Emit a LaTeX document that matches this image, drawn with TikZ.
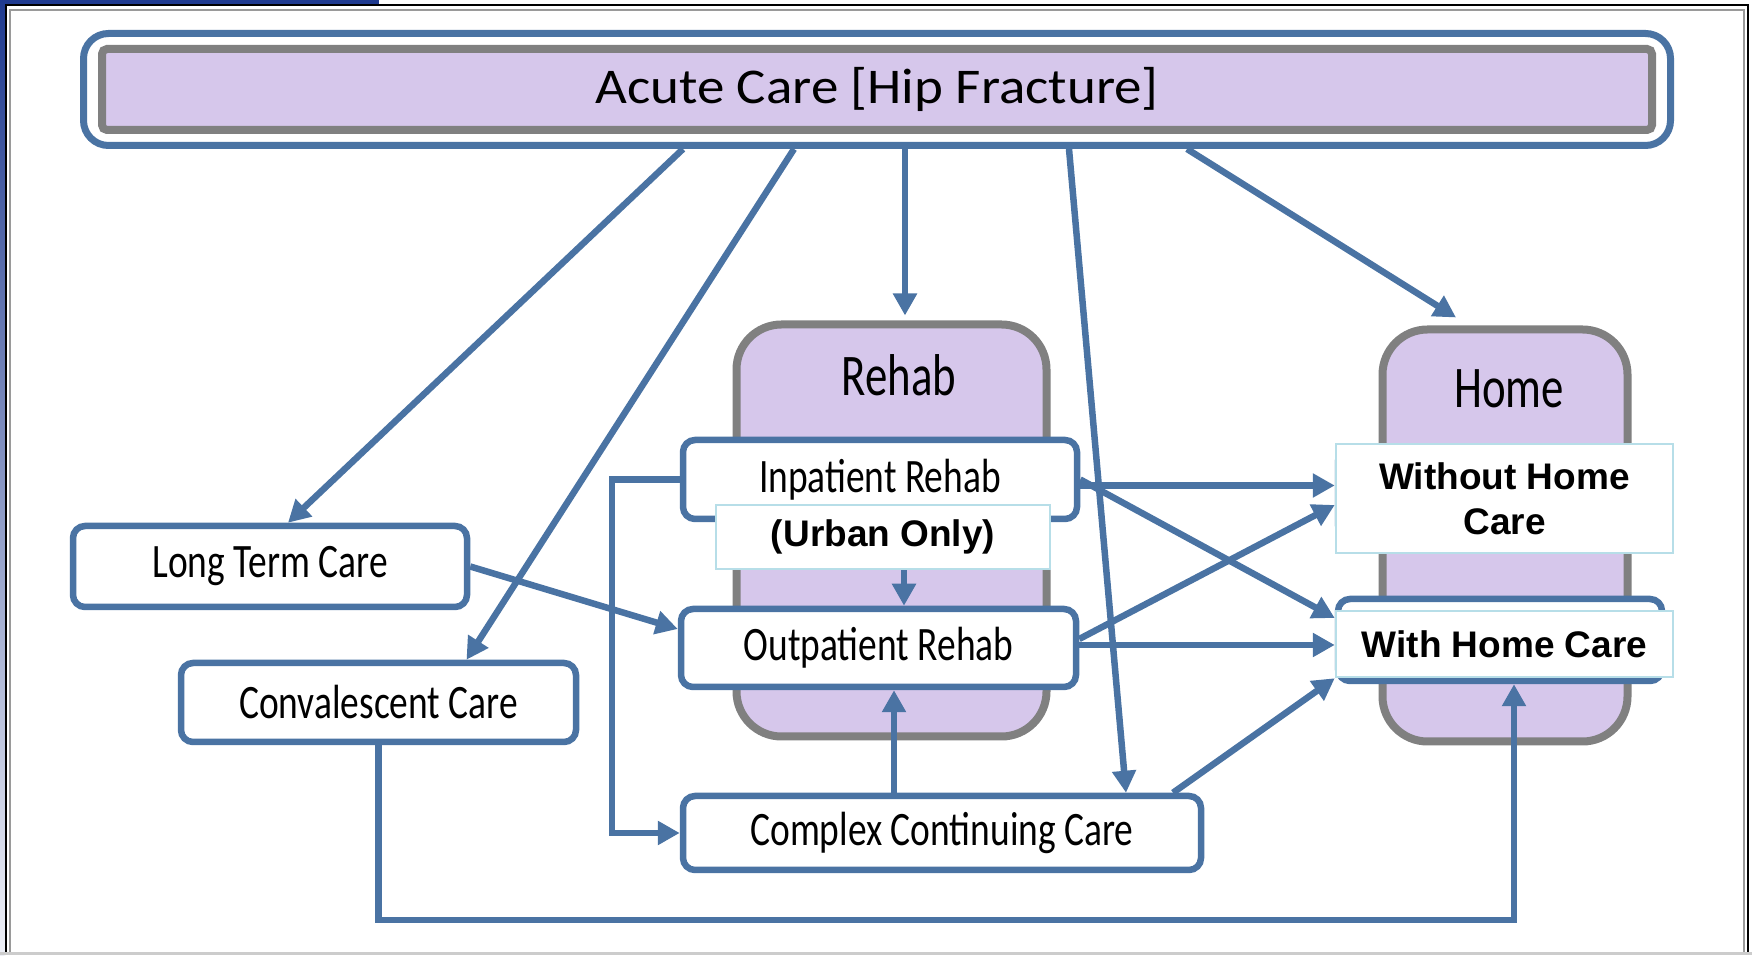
\documentclass[tikz,border=0pt]{standalone}
\usepackage{fontspec}
\setmainfont{Carlito}
\newfontfamily\arialfont{Liberation Sans}
\usetikzlibrary{arrows.meta}
\definecolor{flowblue}{RGB}{74,115,163}
\definecolor{framegray}{RGB}{128,128,128}
\definecolor{lavender}{RGB}{214,199,235}
\definecolor{tagcyan}{RGB}{183,222,232}
\definecolor{framedark}{RGB}{31,58,143}
\newcommand{\narrowtext}[2]{\scalebox{#1}[1]{#2}}
\begin{document}
\begin{tikzpicture}[x=1pt,y=1pt,
	carebox/.style={draw=flowblue,line width=6.5pt,rounded corners=12pt,fill=white,
		font=\fontsize{48}{50}\selectfont},
	tagbox/.style={draw=tagcyan,line width=1.5pt,fill=white,align=center,
		font=\arialfont\bfseries\fontsize{37}{45}\selectfont},
	groupbox/.style={draw=framegray,line width=8pt,rounded corners=45pt,fill=lavender},
	grouplabel/.style={font=\fontsize{59}{60}\selectfont},
	flowarrow/.style={draw=flowblue,line width=6.5pt,-{Triangle[length=22pt,width=23pt]}}]
	\useasboundingbox (0,0) rectangle (1752,955);
	% frame
	\fill[framedark] (0,951) rectangle (379,955);
	\shade[top color=framedark,bottom color=framedark!8] (0,0) rectangle (4.5,955);
	\draw[line width=2pt] (5.5,0)--(5.5,949.5)--(1748,949.5)--(1748,0);
	\draw[framegray!80,line width=2.5pt] (10,0)--(10,945)--(1744,945)--(1744,0);
	\draw[framegray!40,line width=3pt] (0,1.5)--(1752,1.5);
	% acute care
	\node[draw=flowblue,line width=7pt,rounded corners=25pt,fill=white,
		minimum width=1587pt,minimum height=112pt] (acute) at (877,865.5) {};
	\node[draw=framegray,line width=8pt,rounded corners=5pt,fill=lavender,
		minimum width=1550pt,minimum height=81pt,font=\fontsize{50}{52}\selectfont]
		(acutein) at (877,865.5) {\narrowtext{1.1}{Acute Care [Hip Fracture]}};
	% groups
	\node[groupbox,minimum width=310pt,minimum height=412pt] (rehab) at (891.5,424.5) {};
	\node[grouplabel] (rehablbl) at (899,580) {\narrowtext{.76}{Rehab}};
	\node[groupbox,minimum width=245pt,minimum height=412pt] (home) at (1505,419.5) {};
	\node[grouplabel] (homelbl) at (1509,566) {\narrowtext{.76}{Home}};
	% care settings
	\node[carebox,minimum width=394pt,minimum height=79pt] (inpatient) at (880,475.5) {\narrowtext{.78}{Inpatient Rehab}};
	\node[carebox,minimum width=395pt,minimum height=78pt] (outpatient) at (878.5,307) {\narrowtext{.78}{Outpatient Rehab}};
	\node[carebox,minimum width=518pt,minimum height=74pt] (complex) at (942,122) {\narrowtext{.78}{Complex Continuing Care}};
	\node[carebox,minimum width=394pt,minimum height=81pt] (ltc) at (270,388.5) {\narrowtext{.78}{Long Term Care}};
	\node[carebox,minimum width=395pt,minimum height=79pt] (conv) at (378.5,252.5) {\narrowtext{.78}{Convalescent Care}};
	\node[carebox,minimum width=324pt,minimum height=88pt] (withoutbox) at (1500,462) {};
	\node[carebox,minimum width=324pt,minimum height=82pt] (withbox) at (1500,315) {};
	\node[tagbox,minimum width=337pt,minimum height=109pt] (without) at (1504.5,456.5) {Without Home\\Care};
	\node[tagbox,minimum width=337pt,minimum height=66pt] (with) at (1504.5,311) {With Home Care};
	% connectors
	\coordinate (low) at (0,35);
	\draw[flowarrow] ([xshift=-194pt]acute.south) -- ([xshift=18pt]ltc.north);
	\draw[flowarrow] ([xshift=-83pt]acute.south) -- ([xshift=88pt]conv.north);
	\draw[flowarrow] ([xshift=28pt]acute.south) -- ([xshift=13.5pt,yshift=5pt]rehab.north);
	\draw[flowarrow] ([xshift=192pt]acute.south) -- ([xshift=184pt]complex.north);
	\draw[flowarrow] ([xshift=310pt]acute.south) -- ([xshift=-49pt,yshift=8pt]home.north);
	\draw[flowarrow] ([yshift=-6pt]inpatient.east) -- ([yshift=-6pt]inpatient.east -| withoutbox.west);
	\draw[flowarrow] (inpatient.east) -- ([yshift=22pt]withbox.west);
	\draw[flowarrow] (inpatient.west) -- ++(-68pt,0) |- (complex.west);
	\draw[flowarrow] ([xshift=24pt]inpatient.south) -- ([xshift=25.5pt]outpatient.north);
	\draw[flowarrow] (ltc.east) -- ([yshift=19pt]outpatient.west);
	\draw[flowarrow] ([yshift=9pt]outpatient.east) -- ([yshift=-12pt]withoutbox.west);
	\draw[flowarrow] ([yshift=3pt]outpatient.east) -- ([yshift=3pt]outpatient.east -| withbox.west);
	\draw[flowarrow] ([xshift=-48pt]complex.north) -- ([xshift=-48pt]complex.north |- outpatient.south);
	\draw[flowarrow] ([xshift=231pt]complex.north) -- ([yshift=6pt]withbox.south west);
	\draw[flowarrow] (conv.south) -- (conv.south |- low) -| ([xshift=14pt]withbox.south);
	% label over the inpatient box
	\node[tagbox,minimum width=334pt,minimum height=64pt] (urban) at (883,418) {(Urban Only)};
\end{tikzpicture}
\end{document}
